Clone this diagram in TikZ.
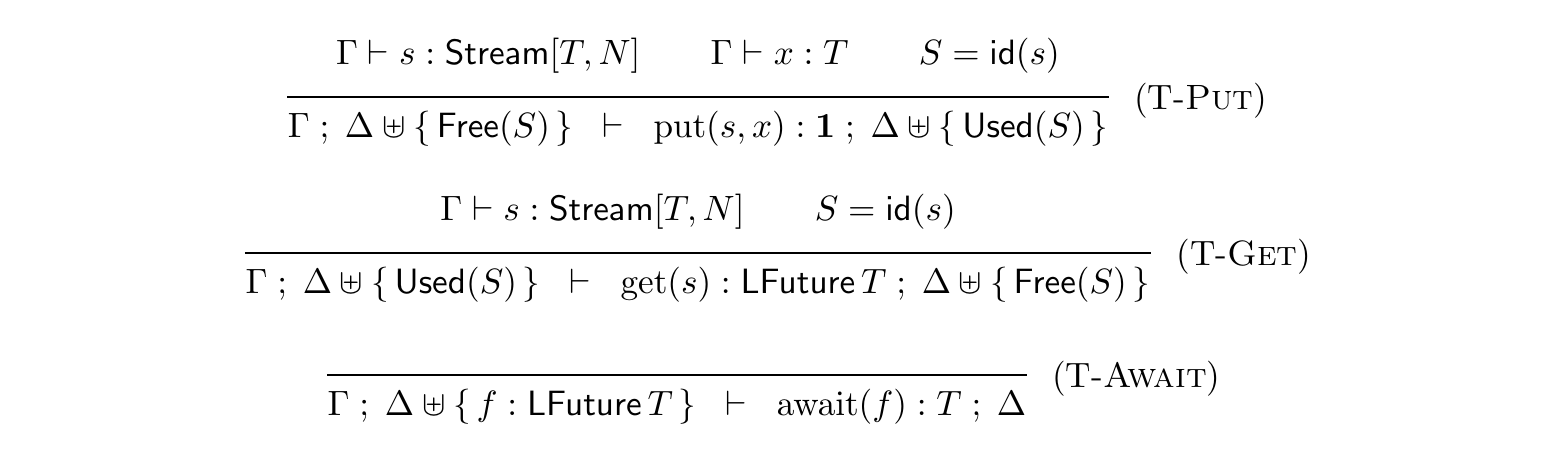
\documentclass[tikz,border=0pt]{standalone}
\usepackage{amsmath}
\usepackage{tikz}
\usetikzlibrary{positioning}
\newcommand{\ty}[1]{\mathsf{#1}}
\newcommand{\tm}[1]{\mathrm{#1}}

\begin{document}
\begin{tikzpicture}[x=0.01cm,y=-0.01cm,
  every node/.style={inner sep=0pt},
  judg/.style={anchor=base},
  rulebar/.style={line width=0.6pt}]
\useasboundingbox (0,0) rectangle (1552,464);
\node[judg] (p1) at (698,65) {
  $\Gamma \vdash s : \ty{Stream}[T,N] \qquad \Gamma \vdash x : T \qquad S = \ty{id}(s)$
};
\node[judg] (c1) at (698,137) {
  $\Gamma \;;\; \Delta \uplus \{\, \ty{Free}(S) \,\} \;\;\vdash\;\; \tm{put}(s,x) : \mathbf{1} \;;\; \Delta \uplus \{\, \ty{Used}(S) \,\}$
};
\draw[rulebar] (c1.west |- 0,97) -- (c1.east |- 0,97) coordinate (b1);
\node[right=7pt of b1, yshift=-1pt] (r1) {(T-\textsc{Put})};

\node[judg] (p2) at (698,221) {
  $\Gamma \vdash s : \ty{Stream}[T,N] \qquad S = \ty{id}(s)$
};
\node[judg] (c2) at (698,293) {
  $\Gamma \;;\; \Delta \uplus \{\, \ty{Used}(S) \,\} \;\;\vdash\;\; \tm{get}(s) : \ty{LFuture}\,T \;;\; \Delta \uplus \{\, \ty{Free}(S) \,\}$
};
\draw[rulebar] (c2.west |- 0,253) -- (c2.east |- 0,253) coordinate (b2);
\node[right=7pt of b2, yshift=-1pt] (r2) {(T-\textsc{Get})};

\node[judg] (c3) at (677,415) {
  $\Gamma \;;\; \Delta \uplus \{\, f : \ty{LFuture}\,T \,\} \;\;\vdash\;\; \tm{await}(f) : T \;;\; \Delta$
};
\draw[rulebar] (c3.west |- 0,375) -- (c3.east |- 0,375) coordinate (b3);
\node[right=7pt of b3, yshift=-1pt] (r3) {(T-\textsc{Await})};
\end{tikzpicture}
\end{document}
